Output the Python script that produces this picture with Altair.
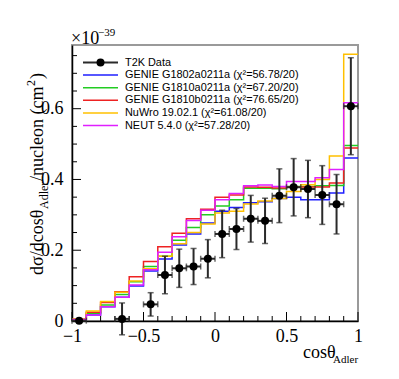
import altair as alt
import pandas as pd

# ---------------- data (units of 1e-39 cm^2 / nucleon) ----------------
bin_lo = [-1.0, -0.9, -0.8, -0.7, -0.6, -0.5, -0.4, -0.3, -0.2, -0.1,
          0.0, 0.1, 0.2, 0.3, 0.4, 0.5, 0.6, 0.7, 0.8, 0.9]
bin_hi_last = 1.0

genie_g1802a = [0.004, 0.017, 0.040, 0.067, 0.099, 0.141, 0.175, 0.215, 0.246, 0.277,
                0.310, 0.321, 0.334, 0.337, 0.346, 0.350, 0.343, 0.343, 0.362, 0.461]
genie_g1810a = [0.004, 0.022, 0.045, 0.075, 0.111, 0.154, 0.183, 0.228, 0.264, 0.300,
                0.325, 0.343, 0.375, 0.375, 0.374, 0.380, 0.380, 0.382, 0.383, 0.496]
genie_g1810b = [0.005, 0.025, 0.052, 0.083, 0.125, 0.168, 0.210, 0.248, 0.289, 0.316,
                0.350, 0.356, 0.379, 0.378, 0.376, 0.379, 0.379, 0.379, 0.390, 0.489]
nuwro = [0.006, 0.028, 0.055, 0.081, 0.113, 0.148, 0.183, 0.218, 0.250, 0.274,
         0.305, 0.310, 0.331, 0.339, 0.346, 0.366, 0.385, 0.400, 0.466, 0.754]
neut = [0.004, 0.017, 0.040, 0.067, 0.102, 0.145, 0.194, 0.238, 0.284, 0.313,
        0.343, 0.360, 0.382, 0.384, 0.380, 0.394, 0.394, 0.405, 0.428, 0.617]

data_x = [-0.95, -0.65, -0.45, -0.35, -0.25, -0.15, -0.05, 0.05, 0.15, 0.25,
          0.35, 0.45, 0.55, 0.65, 0.75, 0.85, 0.95]
data_y = [0.001, 0.006, 0.047, 0.130, 0.149, 0.154, 0.176, 0.246, 0.260, 0.289,
          0.283, 0.354, 0.378, 0.373, 0.356, 0.330, 0.607]
data_err = [0.002, 0.045, 0.033, 0.053, 0.054, 0.051, 0.054, 0.067, 0.058, 0.066,
            0.064, 0.076, 0.081, 0.081, 0.083, 0.084, 0.137]
data_xerr = 0.05

series_names = ["GENIE G1802a0211a (χ²=56.78/20)", "GENIE G1810a0211a (χ²=67.20/20)",
                "GENIE G1810b0211a (χ²=76.65/20)", "NuWro 19.02.1 (χ²=61.08/20)",
                "NEUT 5.4.0 (χ²=57.28/20)"]
series_values = [genie_g1802a, genie_g1810a, genie_g1810b, nuwro, neut]
series_colors = ["#1f1fff", "#22cc22", "#ee2222", "#ffc000", "#e020ff"]

x_labels = [-1, -0.5, 0, 0.5, 1]
y_labels = [0, 0.2, 0.4, 0.6]
x_minor = [round(-1 + 0.1 * i, 2) for i in range(21)]
y_minor = [round(0.05 * i, 2) for i in range(16)]

# ---------------- layout ----------------
W, H = 286, 276
SERIF = "Liberation Serif"
SANS = "Liberation Sans"
xsc = alt.Scale(domain=[-1, 1], nice=False, zero=False)
ysc = alt.Scale(domain=[0, 0.78], nice=False, zero=False)

layers = []

# axes carrying labels only
base_axes = alt.Chart(pd.DataFrame({"x": [0.0], "y": [0.0]})).mark_point(opacity=0).encode(
    x=alt.X("x:Q", scale=xsc, axis=alt.Axis(values=x_labels, format="~g", ticks=False, grid=False,
                                             domainColor="black", domainWidth=1.5, labelFont=SERIF,
                                             labelFontSize=18, labelColor="black", labelPadding=6,
                                             labelFlush=False, title=None)),
    y=alt.Y("y:Q", scale=ysc, axis=alt.Axis(values=y_labels, format="~g", ticks=False, grid=False,
                                             domainColor="black", domainWidth=1.5, labelFont=SERIF,
                                             labelFontSize=18, labelColor="black", labelPadding=9,
                                             labelFlush=False, title=None)),
)
layers.append(base_axes)

def sx(field):
    return alt.X(field, scale=xsc)

def sy(field):
    return alt.Y(field, scale=ysc)

# inward ticks
xt = pd.DataFrame({"v": x_minor})
xt["major"] = [abs(v * 2 - round(v * 2)) < 1e-6 for v in x_minor]
layers.append(alt.Chart(xt[~xt.major]).mark_rule(color="black", strokeWidth=1).encode(
    x=sx("v:Q"), y=alt.value(H), y2=alt.value(H - 5)))
layers.append(alt.Chart(xt[xt.major]).mark_rule(color="black", strokeWidth=1).encode(
    x=sx("v:Q"), y=alt.value(H), y2=alt.value(H - 9)))
yt = pd.DataFrame({"v": y_minor})
yt["major"] = [abs(v * 5 - round(v * 5)) < 1e-6 for v in y_minor]
layers.append(alt.Chart(yt[~yt.major]).mark_rule(color="black", strokeWidth=1).encode(
    y=sy("v:Q"), x=alt.value(0), x2=alt.value(5)))
layers.append(alt.Chart(yt[yt.major]).mark_rule(color="black", strokeWidth=1).encode(
    y=sy("v:Q"), x=alt.value(0), x2=alt.value(9)))

# model step histograms
for name, vals, col in zip(series_names, series_values, series_colors):
    df = pd.DataFrame({"x": bin_lo + [bin_hi_last], "y": vals + [vals[-1]]})
    layers.append(alt.Chart(df).mark_line(interpolate="step-after", color=col, strokeWidth=1.5).encode(
        x=sx("x:Q"), y=sy("y:Q")))

# data points with error bars
dd = pd.DataFrame({"x": data_x, "y": data_y, "e": data_err})
dd["lo"] = dd.y - dd.e
dd["hi"] = dd.y + dd.e
dd["xl"] = dd.x - data_xerr
dd["xh"] = dd.x + data_xerr
ecol = "#2a2a2a"
layers.append(alt.Chart(dd).mark_rule(color=ecol, strokeWidth=2).encode(
    x=sx("x:Q"), y=sy("lo:Q"), y2="hi:Q"))
layers.append(alt.Chart(dd).mark_rule(color=ecol, strokeWidth=2).encode(
    x=sx("xl:Q"), x2="xh:Q", y=sy("y:Q")))
for col_ in ["lo", "hi"]:
    layers.append(alt.Chart(dd).mark_tick(color=ecol, thickness=1.5, size=6, orient="horizontal").encode(
        x=sx("x:Q"), y=sy(f"{col_}:Q")))
for col_ in ["xl", "xh"]:
    layers.append(alt.Chart(dd).mark_tick(color=ecol, thickness=1.5, size=6, orient="vertical").encode(
        x=sx(f"{col_}:Q"), y=sy("y:Q")))
layers.append(alt.Chart(dd).mark_circle(color="black", size=64, opacity=1).encode(
    x=sx("x:Q"), y=sy("y:Q")))

# legend (manual, ROOT style)
LX0, LX1, LT, LY0, LDY = 11, 46, 53, 17.5, 12.6
leg_names = ["T2K Data"] + series_names
leg_colors = ["#2a2a2a"] + series_colors
for i, (nm, c) in enumerate(zip(leg_names, leg_colors)):
    yy = LY0 + i * LDY
    layers.append(alt.Chart(pd.DataFrame({"a": [0]})).mark_rule(color=c, strokeWidth=2 if i == 0 else 1.5).encode(
        x=alt.value(LX0), x2=alt.value(LX1), y=alt.value(yy)))
    layers.append(alt.Chart(pd.DataFrame({"t": [nm]})).mark_text(
        align="left", baseline="middle", font=SANS, fontSize=10.9, color="black").encode(
        x=alt.value(LT), y=alt.value(yy), text="t:N"))
layers.append(alt.Chart(pd.DataFrame({"a": [0]})).mark_point(
    shape="circle", filled=True, color="black", size=64, opacity=1).encode(
    x=alt.value((LX0 + LX1) / 2), y=alt.value(LY0)))

def txt(s, x, y, size, font=SERIF, align="left", baseline="alphabetic", angle=0):
    return alt.Chart(pd.DataFrame({"t": [s]})).mark_text(
        align=align, baseline=baseline, font=font, fontSize=size, color="black", angle=angle).encode(
        x=alt.value(x), y=alt.value(y), text="t:N")

# exponent label
layers.append(txt("×10", -1, -1, 18))
layers.append(txt("−39", 26, -9, 11))

# x title
layers.append(txt("cosθ", 231, 313, 18))
layers.append(txt("Adler", 261, 318, 11))

# y title (rotated, reading upward)
YX = -34
y0 = 230
pieces = [("dσ/dcosθ", 18, 0, 66), ("Adler", 12, 6, 28), ("/nucleon (cm", 18, 0, 95),
          ("2", 12, -7, 7), (")", 18, 0, 6)]
pos = y0
for s, sz, dx, w in pieces:
    layers.append(txt(s, YX + dx, pos, sz, baseline="middle", angle=270))
    pos -= w

chart = alt.layer(*layers).properties(
    width=W, height=H, autosize=alt.AutoSizeParams(type="none"),
    padding={"left": 64, "top": 37, "right": 33, "bottom": 50},
).configure_view(stroke="#9a9a9a", strokeWidth=2).configure_axis(
    labelFont=SERIF, labelFontSize=18, labelColor="black", ticks=False, grid=False,
    domainColor="black", domainWidth=1.5)

chart.save("out.html", embed_options={"renderer": "svg", "actions": False})
